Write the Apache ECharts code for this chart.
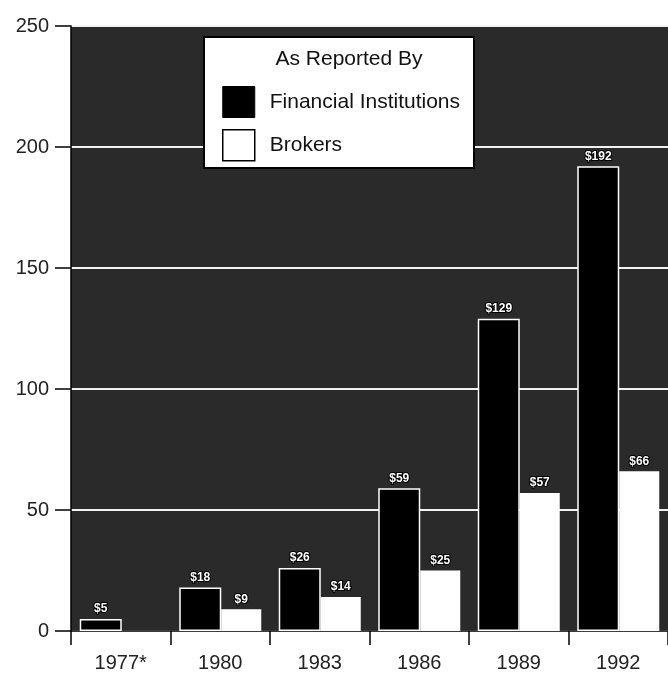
<!DOCTYPE html>
<html><head><meta charset="utf-8">
<script src="https://cdn.jsdelivr.net/npm/echarts@6/dist/echarts.min.js"></script>
<style>html,body{margin:0;padding:0;background:#fff}#c{width:668px;height:673px}</style>
</head><body><div id="c"></div>
<script>
var categories = ['1977*', '1980', '1983', '1986', '1989', '1992'];
var financialInstitutions = [5, 18, 26, 59, 129, 192];
var brokers = [null, 9, 14, 25, 57, 66];
var yTicks = [0, 50, 100, 150, 200, 250];

var chart = echarts.init(document.getElementById('c'));
var font = 'Liberation Sans, Arial, Helvetica, sans-serif';
var lbl = {
  show: true, position: 'top', distance: 4,
  formatter: function (p) { return p.value == null ? '' : '$' + p.value; },
  color: '#fff', fontSize: 12, fontFamily: font, fontWeight: 'bold',
  textBorderColor: '#000', textBorderWidth: 2
};
chart.setOption({
  animation: false,
  backgroundColor: '#fff',
  grid: { left: 71, top: 26, width: 600, bottom: 42, backgroundColor: '#2a2a2a', show: true, borderWidth: 0 },
  xAxis: {
    type: 'category', data: categories,
    axisLine: { lineStyle: { color: '#000', width: 1.5 } },
    axisTick: { show: true, length: 14, lineStyle: { color: '#000', width: 1.5 } },
    axisLabel: { color: '#222', fontSize: 20, fontFamily: font, margin: 22 }
  },
  yAxis: {
    type: 'value', min: yTicks[0], max: yTicks[yTicks.length - 1], interval: 50,
    axisLine: { show: true, lineStyle: { color: '#000', width: 1.5 } },
    axisTick: { show: true, length: 16, lineStyle: { color: '#000', width: 1.5 } },
    axisLabel: { color: '#222', fontSize: 20, fontFamily: font, margin: 22 },
    splitLine: { show: true, lineStyle: { color: '#f2f2f2', width: 2 } }
  },
  legend: {
    data: [
      { name: 'Financial Institutions', itemStyle: { color: '#000', borderColor: '#000', borderWidth: 1 } },
      { name: 'Brokers', itemStyle: { color: '#fff', borderColor: '#000', borderWidth: 1.5 } }
    ],
    orient: 'vertical', left: 217, top: 81, itemWidth: 32, itemHeight: 31, itemGap: 11,
    icon: 'rect',
    textStyle: { color: '#111', fontSize: 21, fontFamily: font, padding: [0, 0, 0, 10] },
    z: 10
  },
  graphic: [
    { type: 'rect', z: 5, shape: { x: 204, y: 37, width: 270, height: 131 },
      style: { fill: '#fff', stroke: '#000', lineWidth: 2 } },
    { type: 'text', z: 6, x: 349, y: 59,
      style: { text: 'As Reported By', fill: '#111', fontSize: 21, fontFamily: font, align: 'center', verticalAlign: 'middle' } }
  ],
  series: [
    { name: 'Financial Institutions', type: 'bar', data: financialInstitutions,
      barWidth: 42, barGap: '0%',
      itemStyle: { color: '#000', borderColor: '#fff', borderWidth: 1.5 }, label: lbl },
    { name: 'Brokers', type: 'bar', data: brokers,
      barWidth: 40,
      itemStyle: { color: '#fff', borderColor: '#fff', borderWidth: 1.5 }, label: lbl }
  ]
});
</script></body></html>
